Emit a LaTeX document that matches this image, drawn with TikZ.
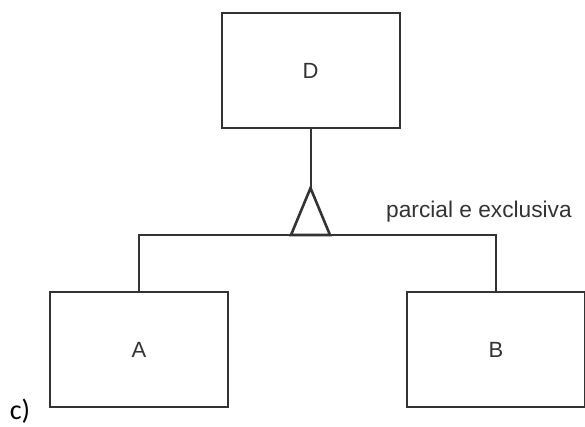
\documentclass[tikz,border=0pt]{standalone}
\usepackage{fontspec}
\setmainfont{Liberation Sans}
\newfontfamily\tagfont{Carlito}
\usepackage{xcolor}
\usetikzlibrary{positioning,calc}

\definecolor{ink}{HTML}{333333}

\begin{document}
\begin{tikzpicture}[
    x=1pt, y=-1pt,
    entity/.style={draw=ink, line width=2pt, minimum width=178pt, minimum height=115pt, inner sep=0pt, text=ink, font=\fontsize{22}{26}\selectfont},
    link/.style={draw=ink, line width=2pt},
    note/.style={text=ink, inner sep=0pt, font=\fontsize{22.7}{27}\selectfont}
]
\useasboundingbox (0,0) rectangle (585,427);

% Superclass
\node[entity] (D) at (310.5,70.5) {D};

% Subclasses
\node[entity] (A) at (139,349.5) {A};
\node[entity] (B) at (496,349.5) {B};

% Specialisation triangle
\coordinate (apex) at (310.5,188);
\coordinate (bar) at (310.5,235);
\draw[link, line width=2.6pt, line join=miter] (apex) -- ($(bar)+(-19.5,0)$) -- ($(bar)+(19.5,0)$) -- cycle;

% Label
\node[note, anchor=west] (kind) at (386,212) {parcial e exclusiva};
\node[note, text=black, font=\tagfont\fontsize{28}{32}\selectfont] (tag) at (20,411) {c)};

% Lines
\draw[link] (D.south) -- (apex);
\draw[link] (A.north) |- (bar) -| (B.north);

\end{tikzpicture}
\end{document}
